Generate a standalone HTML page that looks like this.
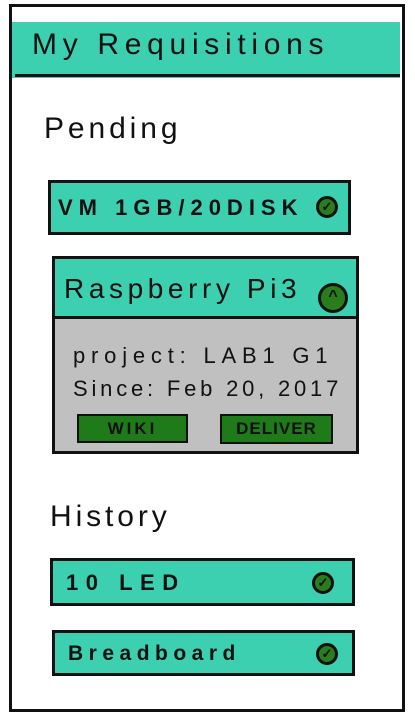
<!DOCTYPE html>
<html><head><meta charset="utf-8"><style>
body{margin:0;width:415px;height:719px;background:#fff;position:relative;overflow:hidden;font-family:"Liberation Sans",sans-serif;}
.a{position:absolute;box-sizing:border-box;}
.t{background:#3ccfb0;}
.b{border:3px solid #111;}
.txt{position:absolute;color:#111;white-space:nowrap;}
.chk{position:absolute;width:22px;height:22px;border-radius:50%;background:#2a7d1c;border:3px solid #111;box-sizing:border-box;color:#111;font-size:13px;text-align:center;line-height:16px;font-weight:bold;}
.btn{position:absolute;background:#1f7a1a;border:2px solid #111;box-sizing:border-box;font-size:17px;font-weight:bold;text-align:center;line-height:25px;color:#111;letter-spacing:3px;}
</style></head><body>
<div class="a b" style="left:9px;top:4px;width:396px;height:708px;"></div>
<div class="a t" style="left:12px;top:22px;width:388px;height:56px;"></div>
<div class="a" style="left:15px;top:74px;width:385px;height:3px;background:#111;"></div>
<div class="txt" style="left:32px;top:28px;font-size:30px;letter-spacing:5.7px;">My Requisitions</div>

<div class="txt" style="left:44px;top:112px;font-size:30px;letter-spacing:3.9px;">Pending</div>
<div class="a t b" style="left:48px;top:180px;width:303px;height:55px;"></div>
<div class="txt" style="left:58px;top:195px;font-size:22px;font-weight:bold;letter-spacing:6px;">VM 1GB/20DISK</div>
<div class="chk" style="left:316px;top:196px;">✓</div>

<div class="a" style="left:52px;top:256px;width:307px;height:198px;background:#c0c0c0;border:3px solid #111;"></div>
<div class="a t" style="left:55px;top:259px;width:301px;height:58px;"></div>
<div class="a" style="left:52px;top:316px;width:307px;height:3px;background:#111;"></div>
<div class="txt" style="left:64px;top:273px;font-size:28px;letter-spacing:4.6px;">Raspberry Pi3</div>
<div class="chk" style="left:318px;top:283px;width:30px;height:30px;line-height:22px;font-size:16px;">^</div>
<div class="txt" style="left:73px;top:343px;font-size:22px;letter-spacing:5.8px;">project: LAB1 G1</div>
<div class="txt" style="left:73px;top:376px;font-size:22px;letter-spacing:3.8px;">Since: Feb 20, 2017</div>
<div class="btn" style="left:77px;top:414px;width:111px;height:29px;">WIKI</div>
<div class="btn" style="left:220px;top:414px;width:113px;height:30px;letter-spacing:1px;">DELIVER</div>

<div class="txt" style="left:50px;top:500px;font-size:30px;letter-spacing:3.9px;">History</div>
<div class="a t b" style="left:50px;top:558px;width:305px;height:48px;"></div>
<div class="txt" style="left:66px;top:570px;font-size:22px;font-weight:bold;letter-spacing:7.5px;">10 LED</div>
<div class="chk" style="left:312px;top:572px;">✓</div>
<div class="a t b" style="left:52px;top:630px;width:303px;height:46px;"></div>
<div class="txt" style="left:68px;top:642px;font-size:21px;font-weight:bold;letter-spacing:5.5px;">Breadboard</div>
<div class="chk" style="left:316px;top:643px;">✓</div>
</body></html>
